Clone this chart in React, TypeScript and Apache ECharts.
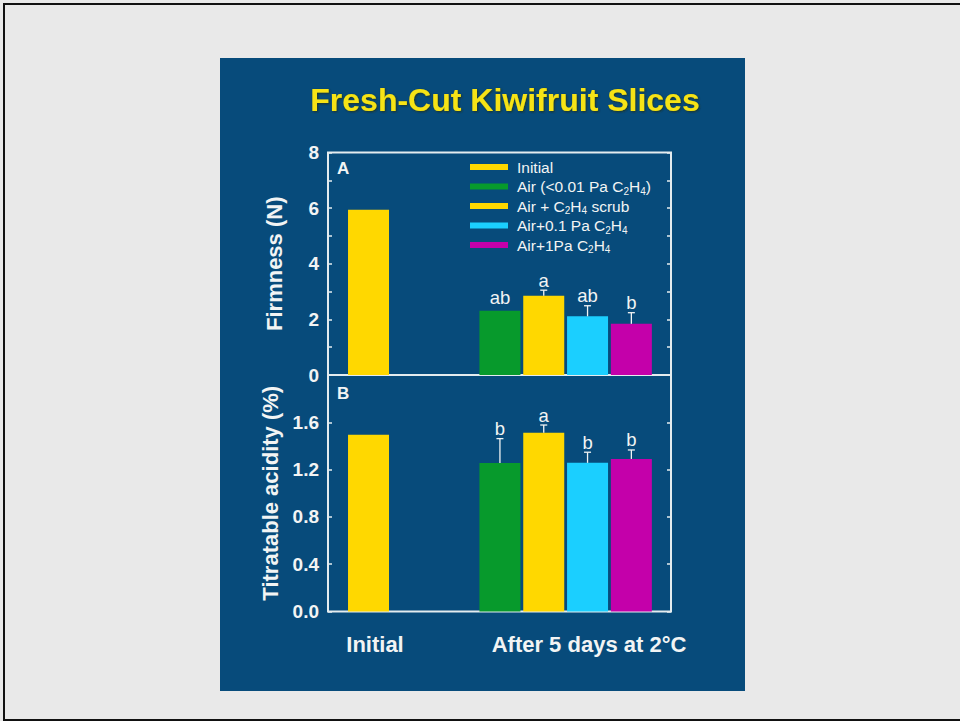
import React, { useEffect, useRef } from "react";
import * as echarts from "echarts";

const treatments = [
  "Initial",
  "Air (<0.01 Pa C2H4)",
  "Air + C2H4 scrub",
  "Air+0.1 Pa C2H4",
  "Air+1Pa C2H4",
];
const slotIndex = [1, 4, 5, 6, 7];
const barColors = ["#ffd800", "#079a2c", "#ffd800", "#1bcfff", "#c400aa"];

const firmness = [5.94, 2.31, 2.85, 2.11, 1.84];
const firmnessErr = [0, 0, 0.2, 0.38, 0.4];
const firmnessLetters = ["", "ab", "a", "ab", "b"];

const acidity = [1.495, 1.255, 1.512, 1.257, 1.29];
const acidityErr = [0, 0.207, 0.065, 0.09, 0.076];
const acidityLetters = ["", "b", "a", "b", "b"];

const groupLabels = ["Initial", "After 5 days at 2°C"];
const titleText = "Fresh-Cut Kiwifruit Slices";
const firmnessName = "Firmness (N)";
const acidityName = "Titratable acidity (%)";

const FONT = "'Liberation Sans', Arial, Helvetica, sans-serif";
const WHITE = "#f2f4f4";
const FRAME = "#e4ecef";
const SLIDE = "#074b7b";

function errorSeries(panel: number, vals: number[], errs: number[], letters: string[]) {
  return {
    type: "custom",
    xAxisIndex: panel,
    yAxisIndex: panel * 2,
    silent: true,
    z: 5,
    data: vals.map((v, i) => [slotIndex[i], v, errs[i]]),
    renderItem: (params: any, api: any) => {
      const i = params.dataIndex;
      const x = api.value(0);
      const v = api.value(1);
      const e = api.value(2);
      const base = api.coord([x, v]);
      const top = api.coord([x, v + e]);
      const children: any[] = [];
      if (e > 0) {
        children.push({
          type: "line",
          shape: { x1: base[0], y1: base[1], x2: top[0], y2: top[1] },
          style: { stroke: WHITE, lineWidth: 1.3 },
        });
        children.push({
          type: "line",
          shape: { x1: top[0] - 3.5, y1: top[1], x2: top[0] + 3.5, y2: top[1] },
          style: { stroke: WHITE, lineWidth: 1.3 },
        });
      }
      if (letters[i]) {
        children.push({
          type: "text",
          x: top[0],
          y: top[1] - (e > 0 ? 0.5 : 4),
          style: {
            text: letters[i],
            fill: WHITE,
            font: `18.5px ${FONT}`,
            textAlign: "center",
            textVerticalAlign: "bottom",
          },
        });
      }
      return { type: "group", children };
    },
  };
}

function yAxes(panel: number, max: number, interval: number, name: string, nameGap: number, minor: boolean, hideTop: boolean) {
  const tick = { inside: true, length: 4, lineStyle: { color: FRAME, width: 1.5 } };
  const common = {
    gridIndex: panel,
    type: "value",
    min: 0,
    max,
    interval,
    axisLine: { show: false },
    splitLine: { show: false },
    axisTick: tick,
    minorTick: { show: minor, splitNumber: 2, length: 4, lineStyle: { color: FRAME, width: 1.5 } },
    minorSplitLine: { show: false },
  };
  return [
    {
      ...common,
      position: "left",
      name,
      nameLocation: "middle",
      nameGap,
      nameTextStyle: { color: WHITE, fontSize: 22, fontWeight: "bold", fontFamily: FONT },
      axisLabel: {
        color: WHITE,
        fontSize: 19,
        fontWeight: "bold",
        fontFamily: FONT,
        margin: 9,
        formatter: (val: number) => {
          if (hideTop && val >= max - 1e-9) return "";
          return interval < 1 ? val.toFixed(1) : String(val);
        },
      },
    },
    { ...common, position: "right", axisLabel: { show: false } },
  ];
}

export default function App() {
  const ref = useRef<HTMLDivElement>(null);
  useEffect(() => {
    if (!ref.current) return;
    const chart = echarts.init(ref.current, undefined, { renderer: "svg" });

    const barSeries: any[] = [];
    treatments.forEach((name, i) => {
      [firmness, acidity].forEach((vals, panel) => {
        barSeries.push({
          type: "bar",
          name,
          xAxisIndex: panel,
          yAxisIndex: panel * 2,
          barWidth: 41,
          barGap: "-100%",
          itemStyle: { color: barColors[i] },
          data: [[slotIndex[i], vals[i]]],
        });
      });
    });

    const xAxisBase = { type: "value", min: 0.075, max: 7.905, show: false };

    chart.setOption({
      animation: false,
      backgroundColor: "#e9e9e9",
      textStyle: { fontFamily: FONT },
      grid: [
        { left: 328, right: 289, top: 152.5, height: 222.5, show: true, borderColor: FRAME, borderWidth: 2, backgroundColor: "transparent" },
        { left: 328, right: 289, top: 375, height: 236.5, show: true, borderColor: FRAME, borderWidth: 2, backgroundColor: "transparent" },
      ],
      xAxis: [
        { ...xAxisBase, gridIndex: 0 },
        { ...xAxisBase, gridIndex: 1 },
      ],
      yAxis: [
        ...yAxes(0, 8, 2, firmnessName, 43, true, false),
        ...yAxes(1, 2.0, 0.4, acidityName, 47, false, true),
      ],
      legend: {
        data: treatments,
        orient: "vertical",
        left: 470,
        top: 157.5,
        padding: 0,
        itemGap: 0.5,
        itemWidth: 38,
        itemHeight: 6,
        icon: "rect",
        selectedMode: false,
        formatter: (name: string) => name.replace(/C2H4/g, "C{s|2}H{s|4}"),
        textStyle: {
          color: WHITE,
          fontSize: 15.5,
          fontFamily: FONT,
          lineHeight: 19,
          padding: [0, 0, 0, 4],
          rich: {
            s: { fontSize: 10, lineHeight: 8, verticalAlign: "bottom", color: WHITE, fontFamily: FONT },
          },
        },
      },
      graphic: [
        { type: "rect", z: -10, shape: { x: 4, y: 4, width: 1000, height: 716 }, style: { fill: "none", stroke: "#111", lineWidth: 2 } },
        { type: "rect", z: -10, shape: { x: 220, y: 58, width: 525, height: 633 }, style: { fill: SLIDE } },
        {
          type: "text",
          x: 505,
          y: 100,
          style: {
            text: titleText,
            fill: "#f6e312",
            font: `bold 32px ${FONT}`,
            textAlign: "center",
            textVerticalAlign: "middle",
            textShadowColor: "rgba(40,40,0,0.7)",
            textShadowBlur: 2,
            textShadowOffsetX: 1,
            textShadowOffsetY: 1,
          },
        },
        { type: "text", x: 337, y: 160, style: { text: "A", fill: WHITE, font: `bold 17px ${FONT}`, textVerticalAlign: "top" } },
        { type: "text", x: 337, y: 384.5, style: { text: "B", fill: WHITE, font: `bold 17px ${FONT}`, textVerticalAlign: "top" } },
        { type: "text", x: 375, y: 644, style: { text: groupLabels[0], fill: WHITE, font: `bold 22px ${FONT}`, textAlign: "center", textVerticalAlign: "middle" } },
        { type: "text", x: 589, y: 644, style: { text: groupLabels[1], fill: WHITE, font: `bold 22px ${FONT}`, textAlign: "center", textVerticalAlign: "middle" } },
      ],
      series: [
        ...barSeries,
        errorSeries(0, firmness, firmnessErr, firmnessLetters),
        errorSeries(1, acidity, acidityErr, acidityLetters),
      ],
    });
    return () => chart.dispose();
  }, []);

  return (
    <div
      ref={ref}
      style={{ position: "fixed", left: 0, top: 0, width: 960, height: 721 }}
    />
  );
}
